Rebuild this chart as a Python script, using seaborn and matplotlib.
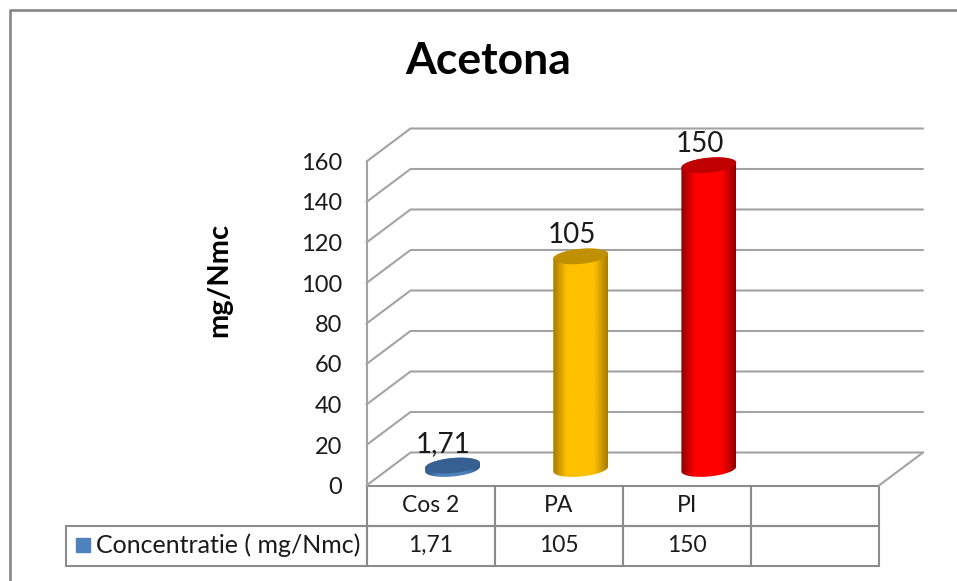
import numpy as np
import pandas as pd
import seaborn as sns
import matplotlib.pyplot as plt
from matplotlib.colors import LinearSegmentedColormap
from matplotlib.lines import Line2D
from matplotlib.patches import PathPatch, Polygon, Rectangle
from matplotlib.path import Path
from matplotlib.table import Table

categories = ["Cos 2", "PA", "PI"]
values = [1.71, 105, 150]
value_labels = ["1,71", "105", "150"]
y_ticks = [0, 20, 40, 60, 80, 100, 120, 140, 160]
series_name = "Concentratie ( mg/Nmc)"
colors = ["#4F81BD", "#FFC000", "#FF0000"]
top_colors = ["#376092", "#BF9000", "#C00000"]
side_colors = ["#2F5585", "#A67C00", "#900000"]

W, H = 957, 581
GRID = "#A3A3A3"
LINE = "#8C8C8C"

sns.set_theme(style="white")
plt.rcParams["font.family"] = ["Lato", "DejaVu Sans"]
text_col = "#1A1A1A"


def box(l, t, r, b):
    return [l / W, 1 - b / H, (r - l) / W, (b - t) / H]


fig = plt.figure(figsize=(W / 100, H / 100), dpi=100, facecolor="white")

# outer chart border, cut off by the screenshot on the right and bottom
fig.add_artist(Line2D([9.5 / W, 9.5 / W, 1], [0, 1 - 9.5 / H, 1 - 9.5 / H], color="#868686", lw=1.9))

# front plane of the fake 3d box
ax = fig.add_axes(box(366.5, 161.5, 879, 485.5))
ax.set_xlim(-0.5, 3.5)
ax.set_ylim(0, 160)
sns.despine(ax=ax, left=True, bottom=True, top=True, right=True)
ax.set_xticks([])
ax.set_yticks(y_ticks)
ax.tick_params(axis="y", labelsize=17, labelcolor=text_col, length=0, pad=17.5)
ax.patch.set_visible(False)

dx = 44 / 128.1
dy = 33 / 2.025
for v in y_ticks:
    ax.plot([-0.5, -0.5 + dx, 3.5 + dx], [v, v + dy, v + dy], color=GRID, lw=1.5, clip_on=False, zorder=1)
ax.plot([3.5, 3.5 + dx], [0, dy], color=GRID, lw=1.5, clip_on=False, zorder=1)
ax.plot([-0.5, -0.5], [0, 160], color=GRID, lw=1.5, clip_on=False, zorder=1)

# table under the plot, built by hand so the label column keeps its width
rows = [categories + [""], value_labels + [""]]
tb = Table(ax, bbox=[0, -80 / 324, 1, 80 / 324])
tb.auto_set_font_size(False)
for r, row in enumerate(rows):
    for c, txt in enumerate(row):
        tb.add_cell(r, c, width=0.25, height=40 / 324, text=txt, loc="center", edgecolor=LINE, facecolor="none")
tb.add_cell(0, -1, width=300 / 512.5, height=40 / 324, text="", loc="left", facecolor="none")
tb.add_cell(1, -1, width=300 / 512.5, height=40 / 324, text=series_name, loc="left", edgecolor=LINE, facecolor="none")
for (r, c), cell in tb.get_celld().items():
    cell.set_linewidth(1.5)
    cell.set_text_props(fontsize=18 if c == -1 else 16.5, color=text_col)
    if c == -1:
        cell.PAD = 30 / 300
        if r == 0:
            cell.visible_edges = ""
ax.add_table(tb)
ax.add_patch(Rectangle((-0.5 - 290 / 128.1, -52.3 / 2.025), 14 / 128.1, -14 / 2.025, color=colors[0],
                       clip_on=False, zorder=5))

# bars sit half way into the box
ax2 = fig.add_axes(box(366.5 + 22, 145, 879 + 22, 469))
df = pd.DataFrame({"categoria": categories, "valore": values})
sns.barplot(data=df, x="categoria", y="valore", hue="categoria", palette=colors, width=0.428,
            dodge=False, legend=False, ax=ax2, saturation=1)
ax2.set_xlim(-0.5, 3.5)
ax2.set_ylim(0, 160)
ax2.axis("off")

b = 3.7  # half height of the ellipses, data units
s = 1.2  # tilt of the ellipses, data units at the right edge
t = np.linspace(0, 2 * np.pi, 121)
for i, cont in enumerate(ax2.containers):
    bar = cont[0]
    x0, w, h = bar.get_x(), bar.get_width(), bar.get_height()
    cx, a = x0 + w / 2, w / 2
    bar.set_visible(False)

    # silhouette = bottom half of lower ellipse, top half of upper ellipse
    lo = np.linspace(np.pi, 2 * np.pi, 60)
    hi = np.linspace(0, np.pi, 60)
    xs = np.r_[cx + a * np.cos(lo), cx + a * np.cos(hi)]
    ys = np.r_[b * np.sin(lo) + s * np.cos(lo), h + b * np.sin(hi) + s * np.cos(hi)]
    sil = PathPatch(Path(np.c_[xs, ys]), transform=ax2.transData, fc="none", ec="none")
    ax2.add_patch(sil)
    cmap = LinearSegmentedColormap.from_list(
        "c", [(0, side_colors[i]), (0.25, colors[i]), (0.75, colors[i]), (1, side_colors[i])])
    im = ax2.imshow(np.linspace(0, 1, 128)[None, :], extent=(x0, x0 + w, -8, h + 8), cmap=cmap,
                    aspect="auto", zorder=3)
    im.set_clip_path(sil)
    im.set_clip_box(fig.bbox)
    ax2.set_xlim(-0.5, 3.5)
    ax2.set_ylim(0, 160)

    ax2.add_patch(Polygon(np.c_[cx + a * np.cos(t), h + b * np.sin(t) + s * np.cos(t)],
                          fc=top_colors[i], ec="none", zorder=4, clip_on=False))
    ann = ax2.bar_label(cont, labels=[value_labels[i]], padding=6, fontsize=20, color=text_col, zorder=6)
    ann[0].xyann = (-6.5, 6)

fig.text(488 / W, 1 - 61 / H, "Acetona", fontsize=32, fontweight="bold", color="black", ha="center", va="center")
fig.text(219 / W, 1 - 280 / H, "mg/Nmc", fontsize=21, fontweight="bold", color="black", rotation=90,
         ha="center", va="center")

fig.savefig("out.png", dpi=100)
